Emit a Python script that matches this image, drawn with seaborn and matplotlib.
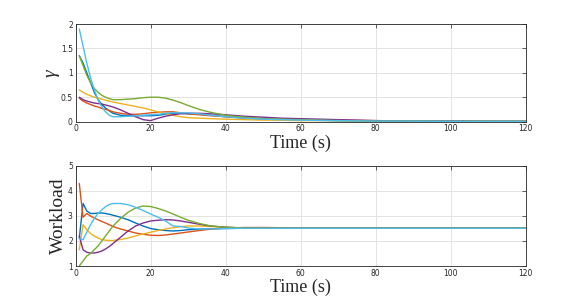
import numpy as np
import pandas as pd
import matplotlib
matplotlib.use("Agg")
import matplotlib.pyplot as plt
import seaborn as sns

t = [1,2,3,4,5,6,7,8,9,10,12,14,16,18,20,22,24,26,28,30,33,36,40,45,50,55,60,70,80,90,100,110,120]

gamma_blue   = [1.35,1.2,1.0,0.8,0.6,0.45,0.35,0.28,0.22,0.17,0.13,0.12,0.12,0.12,0.12,0.13,0.15,0.17,0.17,0.16,0.15,0.13,0.1,0.07,0.05,0.04,0.03,0.02,0.01,0.01,0.005,0.005,0.005]
gamma_orange = [0.48,0.42,0.38,0.35,0.32,0.3,0.27,0.25,0.23,0.2,0.17,0.15,0.15,0.16,0.18,0.19,0.2,0.2,0.18,0.16,0.14,0.12,0.1,0.08,0.06,0.05,0.04,0.03,0.02,0.01,0.01,0.005,0.005]
gamma_yellow = [0.65,0.6,0.56,0.53,0.5,0.48,0.46,0.44,0.42,0.4,0.37,0.34,0.31,0.28,0.24,0.2,0.16,0.13,0.1,0.08,0.07,0.06,0.05,0.04,0.03,0.03,0.02,0.02,0.01,0.01,0.005,0.005,0.005]
gamma_purple = [0.5,0.45,0.42,0.4,0.38,0.37,0.36,0.34,0.32,0.3,0.24,0.17,0.1,0.04,0.02,0.07,0.11,0.14,0.16,0.17,0.17,0.16,0.14,0.11,0.09,0.07,0.06,0.04,0.02,0.01,0.01,0.005,0.005]
gamma_green  = [1.35,1.15,0.95,0.8,0.68,0.6,0.54,0.5,0.47,0.45,0.45,0.46,0.47,0.49,0.5,0.5,0.48,0.44,0.39,0.33,0.25,0.19,0.13,0.09,0.06,0.05,0.04,0.02,0.01,0.01,0.005,0.005,0.005]
gamma_cyan   = [1.9,1.55,1.2,0.9,0.65,0.45,0.3,0.2,0.13,0.1,0.1,0.11,0.12,0.13,0.14,0.15,0.17,0.18,0.18,0.18,0.16,0.13,0.1,0.07,0.05,0.04,0.03,0.02,0.01,0.01,0.005,0.005,0.005]

work_blue   = [2.1,3.5,3.2,3.1,3.1,3.12,3.12,3.1,3.07,3.03,2.95,2.85,2.72,2.6,2.5,2.45,2.42,2.4,2.42,2.45,2.48,2.49,2.5,2.51,2.51,2.51,2.51,2.51,2.51,2.51,2.51,2.51,2.51]
work_orange = [4.3,2.95,3.1,3.0,2.92,2.85,2.78,2.72,2.65,2.58,2.48,2.4,2.32,2.27,2.23,2.22,2.24,2.28,2.32,2.36,2.42,2.47,2.52,2.54,2.54,2.53,2.52,2.51,2.51,2.51,2.51,2.51,2.51]
work_yellow = [1.65,2.65,2.45,2.3,2.2,2.12,2.06,2.03,2.02,2.02,2.06,2.12,2.2,2.28,2.35,2.42,2.48,2.53,2.57,2.6,2.6,2.58,2.55,2.52,2.51,2.51,2.51,2.51,2.51,2.51,2.51,2.51,2.51]
work_purple = [2.2,1.65,1.55,1.52,1.52,1.55,1.6,1.68,1.78,1.9,2.15,2.4,2.6,2.72,2.8,2.83,2.85,2.84,2.8,2.75,2.67,2.6,2.55,2.52,2.51,2.51,2.51,2.51,2.51,2.51,2.51,2.51,2.51]
work_green  = [1.0,1.2,1.4,1.5,1.65,1.8,2.0,2.2,2.4,2.6,2.9,3.15,3.32,3.4,3.38,3.3,3.2,3.08,2.95,2.83,2.7,2.6,2.55,2.52,2.51,2.51,2.51,2.51,2.51,2.51,2.51,2.51,2.51]
work_cyan   = [2.1,2.05,2.35,2.65,2.9,3.1,3.25,3.37,3.46,3.5,3.5,3.45,3.35,3.22,3.08,2.95,2.8,2.6,2.58,2.52,2.48,2.48,2.5,2.51,2.51,2.51,2.51,2.51,2.51,2.51,2.51,2.51,2.51]

names = ["s1", "s2", "s3", "s4", "s5", "s6"]
colors = ["#0072BD", "#D95319", "#EDB120", "#7E2F8E", "#77AC30", "#4DBEEE"]
gammas = [gamma_blue, gamma_orange, gamma_yellow, gamma_purple, gamma_green, gamma_cyan]
works = [work_blue, work_orange, work_yellow, work_purple, work_green, work_cyan]

def long_df(series):
    rows = []
    for n, s in zip(names, series):
        for ti, v in zip(t, s):
            rows.append((n, ti, v))
    return pd.DataFrame(rows, columns=["series", "time", "value"])

df_g = long_df(gammas)
df_w = long_df(works)

sns.set_theme(style="white")
plt.rcParams['font.family'] = ['DejaVu Sans']

fig = plt.figure(figsize=(5.81, 3.04), dpi=100)
ax1 = fig.add_axes([0.130, 0.600, 0.775, 0.321])
ax2 = fig.add_axes([0.130, 0.125, 0.775, 0.329])

serif = ['Liberation Serif', 'DejaVu Serif']

for ax, df, ylim, yticks, ylabel, yfs, ystyle in [
    (ax1, df_g, (0, 2), [0, 0.5, 1, 1.5, 2], "γ", 14, "italic"),
    (ax2, df_w, (1, 5), [1, 2, 3, 4, 5], "Workload", 14, "normal"),
]:
    sns.lineplot(data=df, x="time", y="value", hue="series", palette=colors,
                 legend=False, ax=ax, linewidth=1.0, estimator=None, sort=False)
    ax.set_xlim(0, 120)
    ax.set_ylim(*ylim)
    ax.set_xticks([0, 20, 40, 60, 80, 100, 120])
    ax.set_yticks(yticks)
    ax.set_yticklabels([("%g" % v) for v in yticks])
    ax.grid(True, color="#e3e3e3", linewidth=0.7)
    ax.set_axisbelow(True)
    for sp in ax.spines.values():
        sp.set_color("#262626")
        sp.set_linewidth(0.6)
        sp.set_visible(True)
    ax.tick_params(axis="both", direction="in", length=3, width=0.5, labelsize=5.5,
                   colors="#262626", top=True, right=True, pad=2)
    ax.set_xlabel("Time (s)", fontsize=13, family=serif, labelpad=1)
    ax.set_ylabel(ylabel, fontsize=yfs, family=serif, fontstyle=ystyle, labelpad=1)

fig.savefig("out.png", dpi=100, facecolor="white")
